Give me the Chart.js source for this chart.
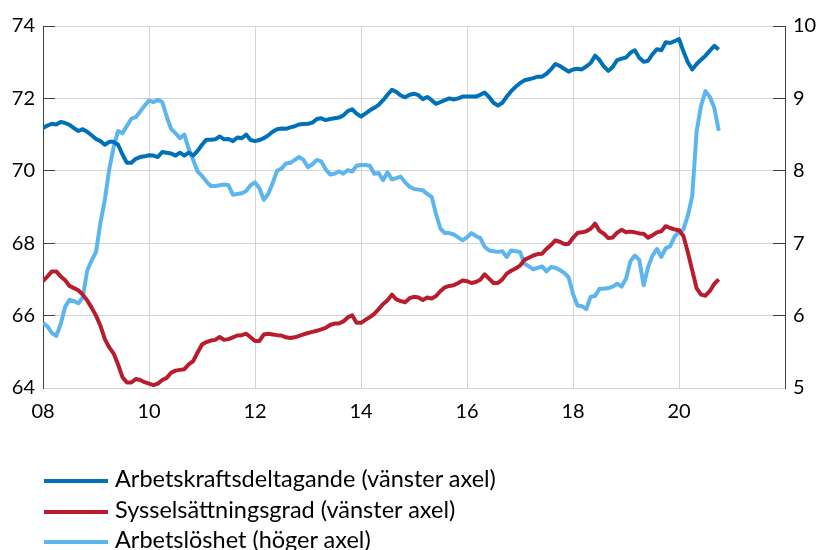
<!DOCTYPE html>
<html lang="sv">
<head>
<meta charset="utf-8">
<title>Arbetskraftsdeltagande, sysselsättningsgrad och arbetslöshet</title>
<script src="https://cdn.jsdelivr.net/npm/chart.js@4.4.1/dist/chart.umd.min.js"></script>
<style>
    html, body { margin: 0; padding: 0; background: #fff; }
    #wrap { position: relative; width: 818px; height: 550px; overflow: hidden; }
    #legend {
        position: absolute; left: 44px; top: 463px;
        font-family: Lato, "Open Sans", sans-serif; font-size: 23.5px; color: #000;
    }
    .item { display: flex; align-items: center; height: 30.5px; white-space: nowrap; }
    .swatch { width: 64px; height: 4px; margin-right: 7px; position: relative; top: 3px; }
</style>
</head>
<body>
<div id="wrap">
    <canvas id="lfsChart" width="818" height="550"></canvas>
    <div id="legend"></div>
</div>
<script>
// månadsdata jan 2008 - okt 2020
const startYear = 2008;

const arbetskraft = [
    71.18, 71.25, 71.30, 71.28, 71.35, 71.32, 71.27, 71.18, 71.10, 71.15, 71.08, 70.98,
    70.88, 70.82, 70.72, 70.80, 70.80, 70.72, 70.45, 70.22, 70.22, 70.33, 70.38, 70.40,
    70.43, 70.42, 70.38, 70.52, 70.50, 70.48, 70.42, 70.50, 70.42, 70.50, 70.42, 70.55,
    70.72, 70.86, 70.86, 70.87, 70.95, 70.87, 70.88, 70.82, 70.92, 70.90, 71.00, 70.85,
    70.82, 70.85, 70.90, 70.98, 71.08, 71.15, 71.17, 71.16, 71.20, 71.23, 71.28, 71.29,
    71.30, 71.33, 71.43, 71.45, 71.40, 71.43, 71.45, 71.47, 71.53, 71.65, 71.70, 71.58,
    71.50, 71.58, 71.67, 71.74, 71.82, 71.95, 72.10, 72.24, 72.18, 72.08, 72.03, 72.10,
    72.13, 72.09, 71.98, 72.04, 71.95, 71.85, 71.90, 71.95, 72.00, 71.97, 72.00, 72.05,
    72.05, 72.05, 72.05, 72.10, 72.16, 72.04, 71.88, 71.80, 71.88, 72.05, 72.20, 72.32,
    72.42, 72.50, 72.53, 72.56, 72.60, 72.60, 72.68, 72.80, 72.95, 72.90, 72.82, 72.74,
    72.80, 72.82, 72.80, 72.88, 72.98, 73.18, 73.06, 72.88, 72.76, 72.87, 73.06, 73.10,
    73.13, 73.26, 73.33, 73.12, 73.01, 73.04, 73.22, 73.36, 73.33, 73.55, 73.53, 73.58,
    73.64, 73.30, 73.00, 72.80, 72.95, 73.07, 73.18, 73.32, 73.45, 73.35
];

const sysselsattning = [
    66.95, 67.08, 67.22, 67.22, 67.08, 66.98, 66.82, 66.76, 66.70, 66.58, 66.42, 66.22,
    66.00, 65.72, 65.35, 65.12, 64.95, 64.65, 64.30, 64.15, 64.15, 64.25, 64.22, 64.16,
    64.12, 64.08, 64.12, 64.22, 64.28, 64.42, 64.48, 64.50, 64.52, 64.65, 64.74, 64.98,
    65.20, 65.27, 65.31, 65.33, 65.41, 65.33, 65.35, 65.40, 65.45, 65.46, 65.50, 65.40,
    65.30, 65.30, 65.48, 65.50, 65.48, 65.46, 65.45, 65.40, 65.38, 65.40, 65.44, 65.48,
    65.52, 65.55, 65.58, 65.62, 65.66, 65.74, 65.78, 65.78, 65.84, 65.95, 66.01, 65.80,
    65.80, 65.88, 65.96, 66.05, 66.18, 66.32, 66.42, 66.58, 66.45, 66.40, 66.37, 66.48,
    66.52, 66.50, 66.43, 66.50, 66.47, 66.54, 66.68, 66.78, 66.82, 66.84, 66.90, 66.97,
    66.95, 66.90, 66.93, 66.99, 67.14, 67.02, 66.90, 66.90, 67.00, 67.16, 67.24, 67.30,
    67.38, 67.54, 67.60, 67.66, 67.70, 67.71, 67.84, 67.95, 68.08, 68.04, 67.98, 67.98,
    68.15, 68.28, 68.30, 68.33, 68.40, 68.54, 68.34, 68.26, 68.14, 68.16, 68.29, 68.37,
    68.30, 68.32, 68.30, 68.27, 68.26, 68.15, 68.22, 68.30, 68.33, 68.47, 68.42, 68.38,
    68.36, 68.20, 67.75, 67.25, 66.75, 66.58, 66.55, 66.68, 66.88, 67.00
];

const arbetsloshet = [
    5.90, 5.85, 5.76, 5.72, 5.88, 6.12, 6.22, 6.20, 6.17, 6.25, 6.62, 6.76,
    6.88, 7.28, 7.60, 8.02, 8.33, 8.55, 8.52, 8.62, 8.72, 8.74, 8.82, 8.90,
    8.97, 8.95, 8.98, 8.95, 8.75, 8.58, 8.52, 8.45, 8.50, 8.30, 8.15, 7.99,
    7.93, 7.85, 7.79, 7.79, 7.80, 7.81, 7.80, 7.67, 7.68, 7.69, 7.72, 7.80,
    7.84, 7.76, 7.60, 7.68, 7.83, 8.00, 8.03, 8.10, 8.11, 8.15, 8.19, 8.15,
    8.05, 8.09, 8.15, 8.13, 8.02, 7.95, 7.96, 7.99, 7.96, 8.01, 7.99, 8.07,
    8.08, 8.08, 8.07, 7.96, 7.97, 7.87, 7.98, 7.88, 7.90, 7.92, 7.84, 7.78,
    7.75, 7.74, 7.73, 7.68, 7.64, 7.40, 7.20, 7.14, 7.14, 7.12, 7.08, 7.04,
    7.08, 7.14, 7.10, 7.07, 6.95, 6.90, 6.89, 6.88, 6.89, 6.81, 6.90, 6.89,
    6.88, 6.72, 6.68, 6.64, 6.66, 6.68, 6.61, 6.67, 6.66, 6.63, 6.59, 6.53,
    6.30, 6.14, 6.13, 6.09, 6.26, 6.27, 6.37, 6.37, 6.38, 6.40, 6.44, 6.40,
    6.51, 6.75, 6.83, 6.77, 6.42, 6.67, 6.83, 6.92, 6.81, 6.93, 6.96, 7.09,
    7.16, 7.19, 7.38, 7.65, 8.55, 8.90, 9.10, 9.02, 8.87, 8.55
];

const serier = [
    { namn: 'Arbetskraftsdeltagande (vänster axel)', data: arbetskraft, farg: '#0070B8', axel: 'y' },
    { namn: 'Sysselsättningsgrad (vänster axel)', data: sysselsattning, farg: '#B81D2E', axel: 'y' },
    { namn: 'Arbetslöshet (höger axel)', data: arbetsloshet, farg: '#5DB5EE', axel: 'y2' }
];

const tickFont = { family: 'Lato', size: 20 };
const gridColor = '#d4d4d4';
const axisColor = '#404040';

// fast bredd på y-axlarna, utan extra luft ovan/under
function fixY(width) {
    return s => {
        s.width = width;
        s.paddingTop = 0;
        s.paddingBottom = 0;
    };
}

const ctx = document.getElementById('lfsChart').getContext('2d');

new Chart(ctx, {
    type: 'line',
    data: {
        datasets: serier.map(s => ({
            label: s.namn,
            data: s.data.map((v, i) => ({ x: startYear + i / 12, y: v })),
            borderColor: s.farg,
            backgroundColor: s.farg,
            borderWidth: 4,
            borderJoinStyle: 'round',
            pointRadius: 0,
            tension: 0,
            yAxisID: s.axel
        }))
    },
    options: {
        responsive: false,
        animation: false,
        devicePixelRatio: 1,
        layout: {
            padding: { top: 26, bottom: 122, left: 0, right: 0 }
        },
        scales: {
            x: {
                type: 'linear',
                min: 2008,
                max: 2022,
                ticks: {
                    stepSize: 2,
                    padding: 12,
                    maxRotation: 0,
                    color: '#000',
                    font: tickFont,
                    callback: v => v < 2022 ? String(v).slice(2) : ''
                },
                grid: { color: gridColor, drawTicks: false },
                border: { color: gridColor },
                afterFit: s => { s.height = 40; }
            },
            y: {
                position: 'left',
                min: 64,
                max: 74,
                ticks: { stepSize: 2, padding: 20, color: '#000', font: tickFont },
                grid: { color: gridColor, tickLength: -12, tickColor: axisColor },
                border: { color: axisColor },
                afterFit: fixY(43)
            },
            y2: {
                position: 'right',
                min: 5,
                max: 10,
                ticks: { stepSize: 1, padding: 20, color: '#000', font: tickFont },
                grid: { drawOnChartArea: false, tickLength: -12, tickColor: axisColor },
                border: { color: axisColor },
                afterFit: fixY(33)
            }
        },
        plugins: {
            legend: { display: false },
            tooltip: { enabled: false }
        }
    }
});

// egen legend, en rad per serie
const legend = document.getElementById('legend');
serier.forEach(s => {
    const row = document.createElement('div');
    row.className = 'item';
    row.innerHTML = '<span class="swatch" style="background:' + s.farg + '"></span><span>' + s.namn + '</span>';
    legend.appendChild(row);
});
</script>
</body>
</html>
